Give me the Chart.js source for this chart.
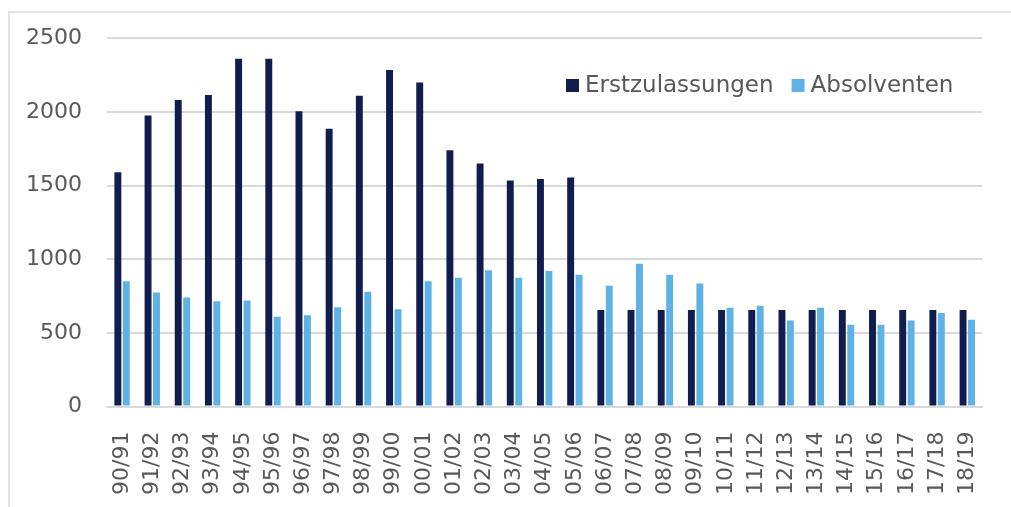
<!DOCTYPE html>
<html lang="de">
<head>
<meta charset="utf-8">
<title>Erstzulassungen und Absolventen</title>
<script src="https://cdn.jsdelivr.net/npm/chart.js@4"></script>
<style>
    body { margin: 0; background: #fff; }
    #wrap { position: absolute; left: 0; top: 0; width: 1011px; height: 507px; }
    #frame { position: absolute; left: 8px; top: 11px; width: 1011px; height: 507px;
             border-left: 2px solid #e3e3e3; border-top: 2px solid #e3e3e3; }
</style>
</head>
<body>
<div id="wrap">
    <div id="frame"></div>
    <canvas id="chart" width="1011" height="507"></canvas>
</div>
<script>
//  =========== DATA ==============
const semesters = ['90/91', '91/92', '92/93', '93/94', '94/95', '95/96', '96/97', '97/98', '98/99', '99/00',
    '00/01', '01/02', '02/03', '03/04', '04/05', '05/06', '06/07', '07/08', '08/09', '09/10',
    '10/11', '11/12', '12/13', '13/14', '14/15', '15/16', '16/17', '17/18', '18/19'];

const erstzulassungen = [1590, 1975, 2080, 2115, 2360, 2360, 2005, 1885, 2110, 2285,
    2200, 1740, 1650, 1535, 1545, 1555, 655, 655, 655, 655,
    655, 655, 655, 655, 655, 655, 655, 655, 655];

const absolventen = [850, 775, 740, 715, 720, 610, 620, 675, 780, 660,
    850, 875, 925, 875, 920, 895, 820, 970, 895, 835,
    670, 685, 585, 670, 555, 555, 585, 635, 590];

const yTicks = [0, 500, 1000, 1500, 2000, 2500];

//  =========== STYLE ==============
const DARK = '#121d4f';
const LIGHT = '#5fb3e4';
const TEXT = '#595959';
const FONT = "'DejaVu Sans', sans-serif";

// legend sits inside the plot, top right, like in the original
const insideLegend = {
    id: 'insideLegend',
    afterDraw(chart) {
        const ctx = chart.ctx;
        ctx.save();
        ctx.font = `23px ${FONT}`;
        ctx.textBaseline = 'middle';
        let x = 566;
        const y = 85;
        chart.data.datasets.forEach(ds => {
            ctx.fillStyle = ds.backgroundColor;
            ctx.fillRect(x, y - 6, 13, 13);
            x += 19;
            ctx.fillStyle = TEXT;
            ctx.fillText(ds.label, x, y + 1);
            x += ctx.measureText(ds.label).width + 18;
        });
        ctx.restore();
    }
};

new Chart(document.getElementById('chart'), {
    type: 'bar',
    data: {
        labels: semesters,
        datasets: [
            { label: 'Erstzulassungen', data: erstzulassungen, backgroundColor: DARK,
              categoryPercentage: 0.56, barPercentage: 0.82 },
            { label: 'Absolventen', data: absolventen, backgroundColor: LIGHT,
              categoryPercentage: 0.56, barPercentage: 0.82 }
        ]
    },
    options: {
        responsive: false,
        animation: false,
        layout: { padding: { left: 1, right: 18, top: 37, bottom: -5 } },
        plugins: {
            legend: { display: false },
            tooltip: { enabled: false }
        },
        scales: {
            x: {
                grid: { display: false },
                border: { color: '#d9d9d9', width: 2 },
                ticks: {
                    color: TEXT, font: { family: FONT, size: 22 },
                    minRotation: 90, maxRotation: 90, padding: 17, autoSkip: false
                }
            },
            y: {
                min: 0, max: 2500,
                afterBuildTicks: axis => { axis.ticks = yTicks.map(v => ({ value: v })); },
                grid: { color: '#d9d9d9', lineWidth: 2, drawTicks: false },
                border: { display: false },
                ticks: { color: TEXT, font: { family: FONT, size: 22 }, padding: 25,
                         callback: v => String(v) }
            }
        }
    },
    plugins: [insideLegend]
});
</script>
</body>
</html>
